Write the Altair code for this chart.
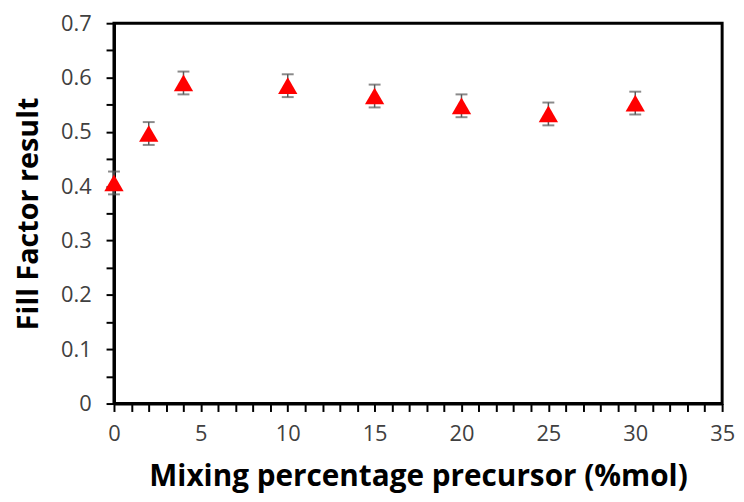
import altair as alt
import pandas as pd

x_vals = [0, 2, 4, 10, 15, 20, 25, 30]
ff_vals = [0.406, 0.497, 0.590, 0.585, 0.566, 0.548, 0.533, 0.553]
err_vals = [0.021, 0.021, 0.021, 0.021, 0.021, 0.021, 0.021, 0.021]

df = pd.DataFrame({"x": x_vals, "y": ff_vals, "e": err_vals})
df["lo"] = df["y"] - df["e"]
df["hi"] = df["y"] + df["e"]

x_ticks = list(range(0, 36))
y_ticks = [round(i * 0.05, 2) for i in range(0, 15)]

FONT = "Open Sans"
GREY = "#404040"
ERR = "#595959"

xscale = alt.Scale(domain=[0, 35], nice=False, zero=False)
yscale = alt.Scale(domain=[0, 0.7], nice=False)

xaxis = alt.Axis(
    title="Mixing percentage precursor (%mol)",
    values=x_ticks,
    labelExpr="datum.value % 5 == 0 ? datum.label : ''",
    grid=False, tickSize=8, tickWidth=2, tickColor="black",
    domainColor="black", domainWidth=3,
    labelFont=FONT, labelFontSize=22, labelColor=GREY, labelPadding=12,
    titleFont=FONT, titleFontSize=30, titleFontWeight="bold", titleColor="black",
    titlePadding=18, labelFlush=False, labelOverlap=False,
)
yaxis = alt.Axis(
    title="Fill Factor result",
    values=y_ticks,
    labelExpr="round(datum.value*100) % 10 == 0 ? (datum.value == 0 ? '0' : format(datum.value, '.1f')) : ''",
    grid=False, tickSize=8, tickWidth=2, tickColor="black",
    domainColor="black", domainWidth=3,
    labelFont=FONT, labelFontSize=22, labelColor=GREY, labelPadding=15,
    titleFont=FONT, titleFontSize=29, titleFontWeight="bold", titleColor="black",
    titlePadding=17, labelFlush=False, labelOverlap=False,
)

base = alt.Chart(df)
X = alt.X("x:Q", scale=xscale, axis=xaxis)

rules = base.mark_rule(color=ERR, strokeWidth=1.5).encode(
    x=X,
    y=alt.Y("lo:Q", scale=yscale, axis=yaxis),
    y2="hi:Q",
)
caps_hi = base.mark_tick(color=ERR, orient="horizontal", size=12, thickness=2).encode(
    x=X, y=alt.Y("hi:Q", scale=yscale, axis=yaxis)
)
caps_lo = base.mark_tick(color=ERR, orient="horizontal", size=12, thickness=2).encode(
    x=X, y=alt.Y("lo:Q", scale=yscale, axis=yaxis)
)
points = base.mark_point(shape="triangle-up", filled=True, color="#ff0000", opacity=1, size=380).encode(
    x=X, y=alt.Y("y:Q", scale=yscale, axis=yaxis)
)

chart = alt.layer(rules, caps_hi, caps_lo, points).properties(
    width=614, height=384,
    autosize=alt.AutoSizeParams(type="none"),
    padding={"left": 107, "top": 13, "right": 14, "bottom": 92},
    background="white",
).configure_view(stroke="black", strokeWidth=3)

chart.save("out.html", embed_options={"renderer": "svg", "actions": False})
